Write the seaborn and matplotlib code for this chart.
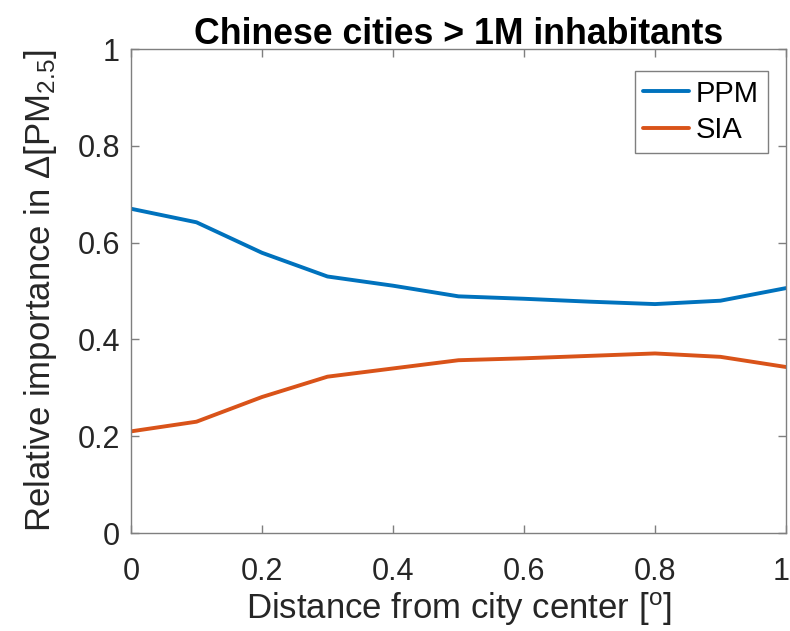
import matplotlib
matplotlib.use("Agg")
import matplotlib.pyplot as plt
import matplotlib.ticker as mticker
import matplotlib.transforms as mtransforms
import numpy as np
import pandas as pd
import seaborn as sns

# Distance from city centre (degrees)
distance = [0.0, 0.1, 0.2, 0.3, 0.4, 0.5, 0.6, 0.7, 0.8, 0.9, 1.0]
# Relative importance of primary particulate matter
ppm = [0.670, 0.642, 0.579, 0.530, 0.511, 0.489, 0.484, 0.478, 0.473, 0.480, 0.506]
# Relative importance of secondary inorganic aerosol
sia = [0.210, 0.230, 0.281, 0.323, 0.340, 0.357, 0.361, 0.366, 0.371, 0.364, 0.343]

series_names = ["PPM", "SIA"]
series_colors = ["#0072BD", "#D95319"]
xticks = [0, 0.2, 0.4, 0.6, 0.8, 1]
yticks = [0, 0.2, 0.4, 0.6, 0.8, 1]

df = pd.DataFrame({
    "distance": distance * 2,
    "value": ppm + sia,
    "series": [series_names[0]] * len(ppm) + [series_names[1]] * len(sia),
})

sns.set_theme(style="white")
plt.rcParams["font.family"] = ["Liberation Sans", "DejaVu Sans"]
plt.rcParams["mathtext.fontset"] = "custom"
plt.rcParams["mathtext.rm"] = "Liberation Sans"
plt.rcParams["mathtext.it"] = "Liberation Sans:italic"
plt.rcParams["mathtext.bf"] = "Liberation Sans:bold"

spine_gray = "#7f7f7f"
text_dark = "#262626"

fig, ax = plt.subplots(figsize=(7.9, 6.31), dpi=100)
fig.subplots_adjust(left=0.1658, right=0.9949, top=0.9223, bottom=0.1553)

sns.lineplot(data=df, x="distance", y="value", hue="series",
             palette=dict(zip(series_names, series_colors)),
             linewidth=2.8, ax=ax, legend=True)

ax.set_xlim(0, 1)
ax.set_ylim(0, 1)
ax.set_xticks(xticks)
ax.set_yticks(yticks)
fmt = mticker.FuncFormatter(lambda v, p: "%g" % v)
ax.xaxis.set_major_formatter(fmt)
ax.yaxis.set_major_formatter(fmt)

for s in ax.spines.values():
    s.set_visible(True)
    s.set_color(spine_gray)
    s.set_linewidth(1.0)

ax.tick_params(axis="both", which="major", direction="in", length=6, width=1,
               color=spine_gray, labelcolor=text_dark, labelsize=22,
               top=True, right=True, bottom=True, left=True)
ax.tick_params(axis="y", pad=8)
ax.tick_params(axis="x", pad=17)

ax.set_xlabel(r"Distance from city center [$^{\mathrm{o}}$]", fontsize=25,
              color=text_dark, labelpad=3)
ax.set_ylabel(r"Relative importance in $\Delta$[PM$_{\mathrm{2.5}}$]", fontsize=25,
              color=text_dark, labelpad=13)
ax.set_title("Chinese cities > 1M inhabitants", fontsize=25.7, fontweight="bold",
             color="black", pad=3.5)

# keep the rightmost x tick label inside the canvas
fig.canvas.draw()
last = ax.get_xticklabels()[-1]
last.set_transform(last.get_transform() +
                   mtransforms.ScaledTranslation(-5 / 100, 0, fig.dpi_scale_trans))

leg = ax.legend(loc="upper right", bbox_to_anchor=(0.972, 0.955), fontsize=21,
                frameon=True, fancybox=False, framealpha=1, edgecolor=spine_gray,
                handlelength=1.55, handletextpad=0.25, borderpad=0.3,
                labelspacing=0.3, borderaxespad=0)
leg.get_frame().set_linewidth(1.0)
for t in leg.get_texts():
    t.set_color("black")

fig.savefig("out.png", dpi=100)
